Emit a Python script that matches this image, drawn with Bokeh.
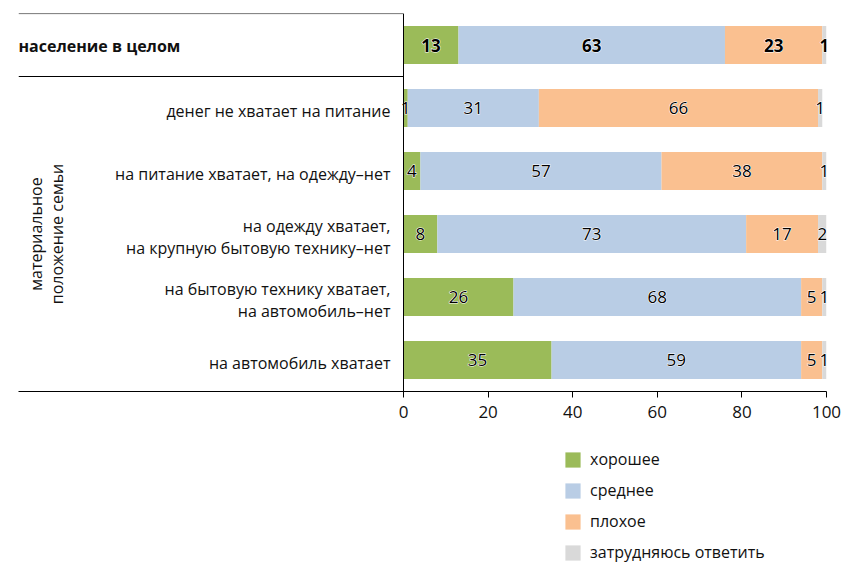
import math
from bokeh.plotting import figure
from bokeh.layouts import column
from bokeh.models import Range1d, FactorRange, FixedTicker, ColumnDataSource, Span
from bokeh.transform import dodge
from bokeh.core.properties import value
from bokeh.embed import file_html
from bokeh.resources import INLINE

# ---------------- data ----------------
categories = [
    "население в целом",
    "денег не хватает на питание",
    "на питание хватает, на одежду–нет",
    "на одежду хватает,\nна крупную бытовую технику–нет",
    "на бытовую технику хватает,\nна автомобиль–нет",
    "на автомобиль хватает",
]
good = [13, 1, 4, 8, 26, 35]
average = [63, 31, 57, 73, 68, 59]
bad = [23, 66, 38, 17, 5, 5]
hard = [1, 1, 1, 2, 1, 1]
series_keys = ["good", "average", "bad", "hard"]
series_names = ["хорошее", "среднее", "плохое", "затрудняюсь ответить"]
series_colors = ["#9BBB59", "#B9CDE5", "#FAC090", "#D9D9D9"]
group_label = "материальное\nположение семьи"
x_ticks = [0, 20, 40, 60, 80, 100]

FONT = "Open Sans"
TXT = "#111111"

# ---------------- layout ----------------
W = 846
H1 = 432
H2 = 134
left_px, right_px = 18, W - 826
top_px = 13
frame_w = W - left_px - right_px          # 808
zero_off = 385                             # px from frame left to value 0
x_start = -100 * zero_off / (frame_w - zero_off)

p = figure(width=W, height=H1,
           x_range=Range1d(x_start, 100),
           y_range=FactorRange(factors=categories[::-1]),
           output_backend="svg", toolbar_location=None,
           min_border_left=left_px, min_border_right=right_px,
           min_border_top=top_px, min_border_bottom=H1 - 391)
p.outline_line_color = None
p.grid.visible = False
p.yaxis.visible = False

src = ColumnDataSource(dict(cat=categories, good=good, average=average, bad=bad, hard=hard))
p.hbar_stack(series_keys, y="cat", height=0.6, color=series_colors,
             line_color=None, source=src)

# value labels (white halo under black text)
xs, ys, ts = [], [], []
for i, c in enumerate(categories):
    acc = 0
    for vals in (good, average, bad, hard):
        v = vals[i]
        xs.append(acc + v / 2)
        ys.append(c)
        ts.append(str(v))
        acc += v
n_first = 4
lab_bold = ColumnDataSource(dict(x=xs[:n_first], y=ys[:n_first], t=ts[:n_first]))
lab_norm = ColumnDataSource(dict(x=xs[n_first:], y=ys[n_first:], t=ts[n_first:]))
common = dict(text_align="center", text_baseline="middle", text_font=value(FONT),
              text_font_size="17px")
for s, style in ((lab_bold, "bold"), (lab_norm, "normal")):
    p.text(x="x", y="y", text="t", source=s, text_font_style=style,
           text_color="white", text_outline_color="white", **common)
    p.text(x="x", y="y", text="t", source=s, text_font_style=style,
           text_color="black", **common)

# row labels
row_src = ColumnDataSource(dict(x=[0] * (len(categories) - 1), y=categories[1:], t=categories[1:]))
p.text(x="x", y="y", text="t", source=row_src, x_offset=-13, y_offset=3, text_align="right",
       text_baseline="middle", text_font=value(FONT), text_font_size="16px",
       text_color=TXT, text_line_height=0.97)
top_src = ColumnDataSource(dict(x=[x_start], y=categories[:1], t=categories[:1]))
p.text(x="x", y="y", text="t", source=top_src, text_align="left", y_offset=1,
       text_baseline="middle", text_font=value(FONT), text_font_size="16px",
       text_font_style="bold", text_color=TXT)

# group label (rotated)
grp_src = ColumnDataSource(dict(x=[x_start], y=[categories[3]], t=[group_label]))
p.text(x="x", y="y", text="t", source=grp_src, x_offset=28, angle=math.pi / 2,
       text_align="center", text_baseline="middle", text_font=value(FONT),
       text_font_size="16px", text_color=TXT, text_line_height=0.97)

# separator lines around the first row
sep_src = ColumnDataSource(dict(x0=[x_start], x1=[0], y=categories[:1]))
for off in (0.499, -0.5):
    p.segment(x0="x0", x1="x1", y0=dodge("y", off, range=p.y_range),
              y1=dodge("y", off, range=p.y_range), source=sep_src,
              line_color="black", line_width=1)

# vertical value axis line
p.add_layout(Span(location=0, dimension="height", line_color="black", line_width=1))

# x axis
xa = p.xaxis[0]
xa.ticker = FixedTicker(ticks=x_ticks)
xa.axis_line_color = "black"
xa.major_tick_line_color = "black"
xa.major_tick_in = 0
xa.major_tick_out = 6
xa.minor_tick_line_color = None
xa.major_label_text_font = FONT
xa.major_label_text_font_size = "17px"
xa.major_label_text_color = TXT
xa.major_label_standoff = 8

# ---------------- legend panel ----------------
p2 = figure(width=W, height=H2, output_backend="svg", toolbar_location=None,
            x_range=Range1d(0, 1), y_range=Range1d(0, 1),
            min_border=0, min_border_left=0, min_border_right=0,
            min_border_top=0, min_border_bottom=0)
p2.outline_line_color = None
p2.grid.visible = False
p2.axis.visible = False
# legend swatches: one off-view bar per series, styled from the series lists
for name, col in zip(series_names, series_colors):
    p2.hbar(y=[-5], left=[0], right=[1], height=0.6, color=col, line_color=None,
            legend_label=name)
lg = p2.legend[0]
lg.location = (545, 3)
lg.orientation = "vertical"
lg.padding = 0
lg.margin = 0
lg.spacing = 9
lg.border_line_color = None
lg.background_fill_alpha = 0
lg.glyph_width = 19
lg.glyph_height = 19
lg.label_height = 16
lg.label_standoff = 8
lg.label_text_font = FONT
lg.label_text_font_size = "16px"
lg.label_text_color = TXT
lg.label_text_baseline = "middle"

open("out.html", "w").write(file_html(column(p, p2), INLINE))
